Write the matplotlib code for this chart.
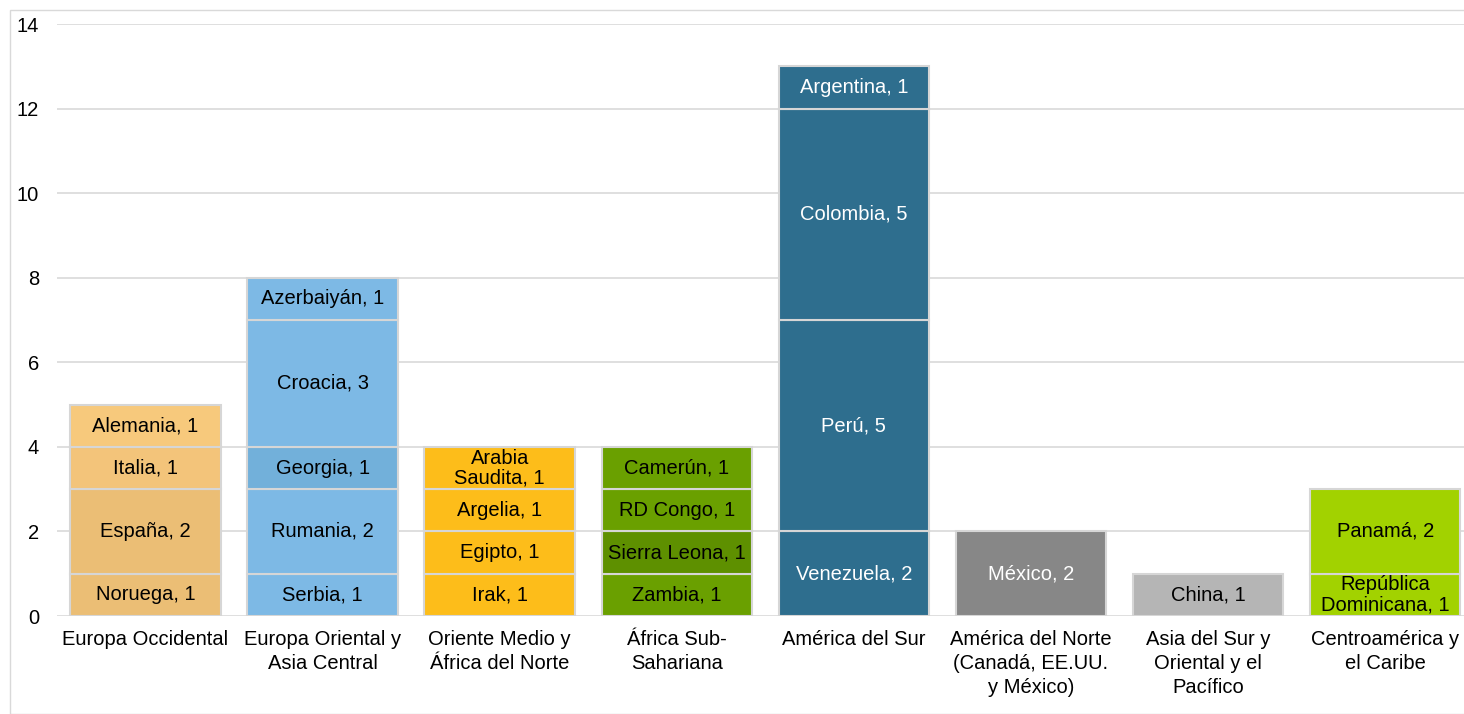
import matplotlib.pyplot as plt
from matplotlib.patches import Rectangle

plt.rcParams['font.family'] = ['Liberation Sans', 'DejaVu Sans']

regions = ["Europa Occidental", "Europa Oriental y\nAsia Central", "Oriente Medio y\nÁfrica del Norte",
           "África Sub-\nSahariana", "América del Sur", "América del Norte\n(Canadá, EE.UU.\ny México)",
           "Asia del Sur y\nOriental y el\nPacífico", "Centroamérica y\nel Caribe"]

# segments per region, bottom to top
countries = [
    ["Noruega", "España", "Italia", "Alemania"],
    ["Serbia", "Rumania", "Georgia", "Croacia", "Azerbaiyán"],
    ["Irak", "Egipto", "Argelia", "Arabia\nSaudita"],
    ["Zambia", "Sierra Leona", "RD Congo", "Camerún"],
    ["Venezuela", "Perú", "Colombia", "Argentina"],
    ["México"],
    ["China"],
    ["República\nDominicana", "Panamá"],
]
counts = [
    [1, 2, 1, 1],
    [1, 2, 1, 3, 1],
    [1, 1, 1, 1],
    [1, 1, 1, 1],
    [2, 5, 5, 1],
    [2],
    [1],
    [1, 2],
]
seg_colors = [
    ["#EBBE75", "#EBBE75", "#F3C47A", "#F7C97C"],
    ["#7DB9E5", "#7DB9E5", "#72B0DA", "#7DB9E5", "#7DB9E5"],
    ["#FDBD1A"] * 4,
    ["#6AA000", "#5E9000", "#6AA000", "#6AA000"],
    ["#2E6E8E"] * 4,
    ["#878787"],
    ["#B5B5B5"],
    ["#A2D200", "#A2D200"],
]
text_colors = ["black", "black", "black", "black", "white", "white", "black", "black"]

fs = 14.5

fig = plt.figure(figsize=(14.64, 7.14), dpi=100)
fig.patches.append(Rectangle((10 / 1464, 0), 1, 1 - 10 / 714, transform=fig.transFigure,
                             fill=False, edgecolor="#D9D9D9", linewidth=1))
ax = fig.add_axes([57 / 1464, 1 - 616 / 714, 1 - 57 / 1464, (616 - 24) / 714])

for i, (names, vals) in enumerate(zip(countries, counts)):
    bottom = 0
    for name, v, c in zip(names, vals, seg_colors[i]):
        ax.bar(i, v, bottom=bottom, width=0.85, color=c, edgecolor="#D6D6D6", linewidth=1.5, zorder=3)
        ax.text(i, bottom + v / 2, "{}, {}".format(name, v), ha="center", va="center",
                fontsize=fs, color=text_colors[i], zorder=4, linespacing=1.05)
        bottom += v

ax.set_xlim(-0.5, 7.445)
ax.set_ylim(0, 14)
ax.set_yticks(range(0, 15, 2))
ax.set_xticks(range(len(regions)))
ax.set_xticklabels(regions, fontsize=fs, linespacing=1.35, va="top")
ax.tick_params(axis="y", labelsize=fs, length=0, pad=13)
ax.tick_params(axis="x", length=0, pad=10)
ax.grid(axis="y", color="#D9D9D9", linewidth=1.2, zorder=0)
for s in ax.spines.values():
    s.set_visible(False)

plt.savefig("out.png", dpi=100)
